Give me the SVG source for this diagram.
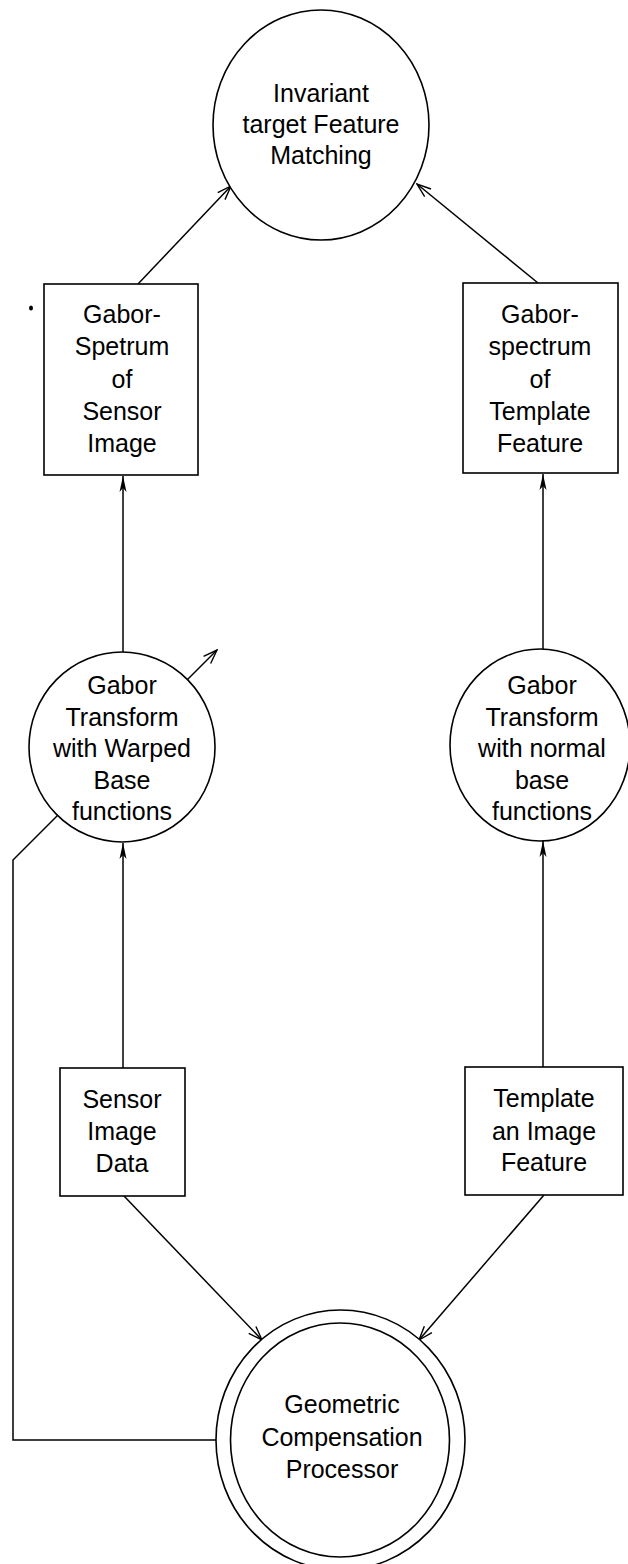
<svg xmlns="http://www.w3.org/2000/svg" width="628" height="1564" viewBox="0 0 628 1564">
<style>
.shape{fill:#fff;stroke:#000;stroke-width:1.6}
.conn{fill:none;stroke:#000;stroke-width:1.5}
.lbl{font-family:"Liberation Sans",Arial,sans-serif;font-size:25px;fill:#000;text-anchor:middle}
</style>
<defs>
<marker id="open" viewBox="0 0 16 12" refX="15" refY="6" markerWidth="16" markerHeight="12" orient="auto" markerUnits="userSpaceOnUse">
<path d="M1,1 L15,6 L1,11" fill="none" stroke="#000" stroke-width="1.4"/>
</marker>
<marker id="solid" viewBox="0 0 16 8" refX="16" refY="4" markerWidth="16" markerHeight="8" orient="auto" markerUnits="userSpaceOnUse">
<path d="M0,0.5 L16,4 L0,7.5 L4,4 Z" fill="#000"/>
</marker>
</defs>
<rect width="628" height="1564" fill="#fff"/>
<g id="connectors">
<line class="conn" x1="138" y1="284" x2="231" y2="186" marker-end="url(#open)"/>
<line class="conn" x1="538" y1="283" x2="417" y2="184" marker-end="url(#open)"/>
<line class="conn" x1="123" y1="652" x2="123" y2="476" marker-end="url(#solid)"/>
<line class="conn" x1="543" y1="649" x2="543" y2="474" marker-end="url(#solid)"/>
<line class="conn" x1="123" y1="1068" x2="123" y2="843" marker-end="url(#solid)"/>
<line class="conn" x1="543" y1="1067" x2="543" y2="841" marker-end="url(#solid)"/>
<line class="conn" x1="124" y1="1196" x2="262" y2="1340" marker-end="url(#open)"/>
<line class="conn" x1="544" y1="1195" x2="419" y2="1340" marker-end="url(#open)"/>
<polyline class="conn" points="58,815 13,860 13,1440 216,1440"/>
<line class="conn" x1="185" y1="682" x2="217" y2="650" marker-end="url(#open)"/>
</g>
<g id="matching">
<ellipse class="shape" cx="321" cy="125" rx="108" ry="115"/>
<text class="lbl"><tspan x="321" y="102">Invariant</tspan><tspan x="321" y="133">target Feature</tspan><tspan x="321" y="164">Matching</tspan></text>
</g>
<g id="spectrum-sensor">
<rect class="shape" x="44" y="284" width="154" height="191"/>
<text class="lbl"><tspan x="122" y="323">Gabor-</tspan><tspan x="122" y="355">Spetrum</tspan><tspan x="122" y="388">of</tspan><tspan x="122" y="420">Sensor</tspan><tspan x="122" y="452">Image</tspan></text>
</g>
<g id="spectrum-template">
<rect class="shape" x="463" y="283" width="155" height="190"/>
<text class="lbl"><tspan x="540" y="323">Gabor-</tspan><tspan x="540" y="355">spectrum</tspan><tspan x="540" y="388">of</tspan><tspan x="540" y="420">Template</tspan><tspan x="540" y="452">Feature</tspan></text>
</g>
<g id="gabor-warped">
<ellipse class="shape" cx="122" cy="747" rx="93" ry="95"/>
<text class="lbl"><tspan x="122" y="694">Gabor</tspan><tspan x="122" y="726">Transform</tspan><tspan x="122" y="757">with Warped</tspan><tspan x="122" y="789">Base</tspan><tspan x="122" y="820">functions</tspan></text>
</g>
<g id="gabor-normal">
<ellipse class="shape" cx="540" cy="745" rx="90" ry="96"/>
<text class="lbl"><tspan x="542" y="694">Gabor</tspan><tspan x="542" y="726">Transform</tspan><tspan x="542" y="757">with normal</tspan><tspan x="542" y="789">base</tspan><tspan x="542" y="820">functions</tspan></text>
</g>
<g id="sensor-data">
<rect class="shape" x="60" y="1068" width="125" height="128"/>
<text class="lbl"><tspan x="122" y="1108">Sensor</tspan><tspan x="122" y="1140">Image</tspan><tspan x="122" y="1172">Data</tspan></text>
</g>
<g id="template-feature">
<rect class="shape" x="465" y="1067" width="158" height="128"/>
<text class="lbl"><tspan x="544" y="1107">Template</tspan><tspan x="544" y="1140">an Image</tspan><tspan x="544" y="1171">Feature</tspan></text>
</g>
<g id="geometric">
<ellipse class="shape" cx="340.5" cy="1440" rx="124.5" ry="130"/>
<ellipse class="shape" cx="340" cy="1440" rx="109.5" ry="117"/>
<text class="lbl"><tspan x="342" y="1413">Geometric</tspan><tspan x="342" y="1446">Compensation</tspan><tspan x="342" y="1478">Processor</tspan></text>
</g>
<ellipse cx="31" cy="308" rx="2" ry="2.5" fill="#000"/>
</svg>
